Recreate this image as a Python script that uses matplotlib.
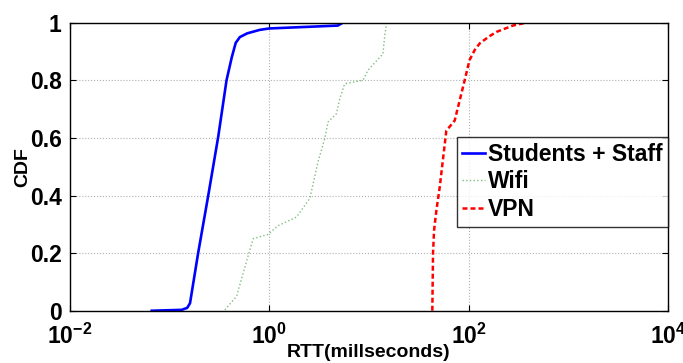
import matplotlib
matplotlib.use('Agg')
import matplotlib.pyplot as plt
import numpy as np

plt.rcParams['font.family'] = ['Liberation Sans', 'DejaVu Sans']
plt.rcParams['font.weight'] = 'bold'

# CDF curves (RTT in ms, cumulative fraction)
staff_rtt = [0.066, 0.132, 0.150, 0.160, 0.193, 0.243, 0.307, 0.372, 0.42, 0.46, 0.506,
             0.6, 0.8, 1.0, 4.86, 5.46, 1020]
staff_cdf = [0.0, 0.003, 0.01, 0.026, 0.2, 0.397, 0.604, 0.8, 0.88, 0.93, 0.95,
             0.963, 0.975, 0.98, 0.99, 1.0, 1.0]

wifi_rtt = [0.358, 0.469, 0.612, 0.689, 0.973, 1.22, 1.87, 2.55, 3.08, 3.60, 3.88, 4.71,
            5.09, 5.71, 8.71, 9.77, 13.8, 14.4, 15.0]
wifi_cdf = [0.003, 0.05, 0.19, 0.25, 0.265, 0.295, 0.325, 0.39, 0.517, 0.598, 0.655, 0.684,
            0.736, 0.788, 0.8, 0.835, 0.892, 0.956, 0.997]

vpn_rtt = [43.2, 43.9, 45.0, 47.4, 51.2, 59.7, 72.4, 91.2, 102, 115, 129, 160, 190, 278, 378]
vpn_cdf = [0.0, 0.2, 0.28, 0.347, 0.428, 0.625, 0.66, 0.8, 0.87, 0.905, 0.928, 0.952, 0.968, 0.99, 1.0]

fig = plt.figure(figsize=(6.83, 3.63), dpi=100)
ax = fig.add_axes([0.1025, 0.144, 0.8755, 0.7935])

ax.plot(staff_rtt, staff_cdf, color='blue', lw=1.9, label='Students + Staff')
ax.plot(wifi_rtt, wifi_cdf, color='#5fae5f', lw=1.0, ls=':', alpha=0.8, label='Wifi')
ax.plot(vpn_rtt, vpn_cdf, color='red', lw=1.8, ls=(0, (2, 1.2)), label='VPN')

ax.set_xscale('log')
ax.set_xlim(1e-2, 1e4)
ax.set_ylim(0, 1)
ax.set_xticks([1e-2, 1e0, 1e2, 1e4])
ax.xaxis.set_minor_locator(matplotlib.ticker.NullLocator())
ax.set_yticks([0, 0.2, 0.4, 0.6, 0.8, 1])
ax.set_yticklabels(['0', '0.2', '0.4', '0.6', '0.8', '1'])
ax.tick_params(direction='in', top=True, right=True, labelsize=16.5, length=4, width=0.8)
ax.tick_params(axis='x', pad=9)
ax.tick_params(axis='y', pad=6)
for lab in ax.get_xticklabels() + ax.get_yticklabels():
    lab.set_fontweight('bold')
ax.grid(True, ls=':', color='#b0b0b0', lw=0.8)
for s in ax.spines.values():
    s.set_linewidth(1.0)

ax.set_xlabel('RTT(millseconds)', fontsize=14, fontweight='bold', labelpad=-3)
ax.set_ylabel('CDF', fontsize=14, fontweight='bold', labelpad=-1)

leg = ax.legend(loc='upper right', bbox_to_anchor=(1.0, 0.603), fontsize=16.5,
                frameon=True, fancybox=False, edgecolor='black', handlelength=1.0,
                handletextpad=0.1, borderpad=0.25, labelspacing=0.2, borderaxespad=0)
leg.get_frame().set_linewidth(1.0)
for t in leg.get_texts():
    t.set_fontweight('bold')

fig.savefig('out.png', dpi=100)
